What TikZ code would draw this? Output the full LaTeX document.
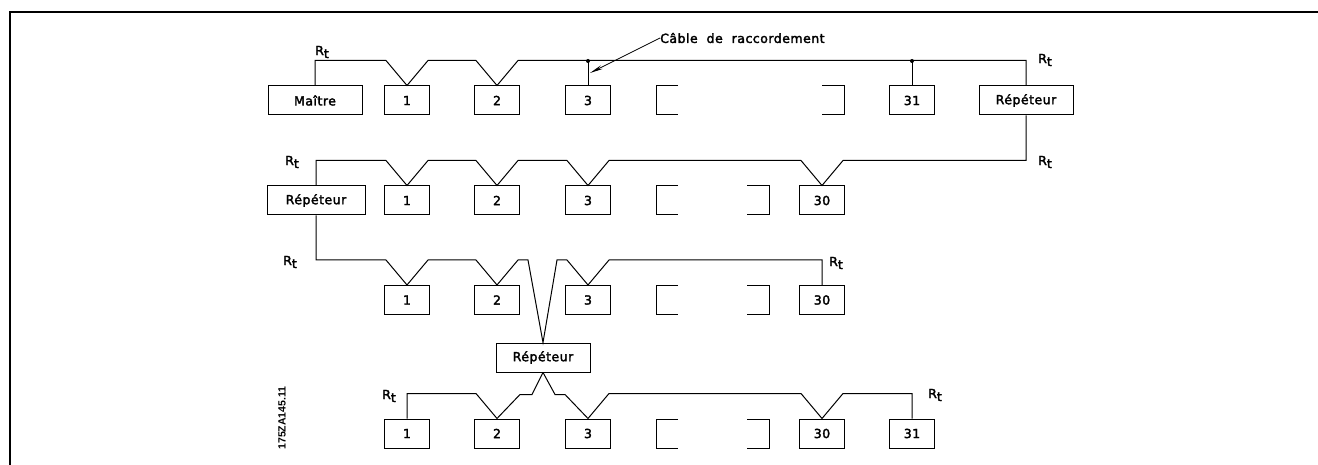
\documentclass[tikz,border=0pt]{standalone}
\usepackage{fontspec}
\newfontfamily\cadfont{DejaVu Sans}[LetterSpace=4, FakeBold=2.5]
\newfontfamily\codefont{Liberation Sans}
\usetikzlibrary{arrows.meta,calc}
\begin{document}
\begin{tikzpicture}[x=1pt,y=-1pt,
  wire/.style={line width=1pt, line join=miter},
  txt/.style={font=\cadfont\fontsize{12.5}{14}\selectfont},
  dev/.style={txt, draw, line width=1pt, minimum width=45pt, minimum height=29pt, inner sep=0pt},
  rep/.style={dev, minimum width=94pt},
  rt/.style={txt, inner sep=0pt},
  tap/.style={insert path={-- ($(#1.north)+(-21,-25)$) -- (#1.north) -- ($(#1.north)+(21,-25)$)}}]
\useasboundingbox (0,0) rectangle (1318,465);
% page frame
\draw[line width=2.5pt] (10,470) -- (10,12) -- (1325,12);

% first segment
\node[rep] (ma)  at (315,100.5) {Maître};
\node[dev] (a1)  at (407,100.5) {1};
\node[dev] (a2)  at (497,100.5) {2};
\node[dev] (a3)  at (588,100.5) {3};
\node[dev] (a31) at (912,100.5) {31};
\node[rep] (rA)  at (1026,100.5) {Répéteur};

% second segment
\node[rep, minimum width=98pt] (rB) at (316,200.5) {Répéteur};
\node[dev] (b1)  at (407,200.5) {1};
\node[dev] (b2)  at (497,200.5) {2};
\node[dev] (b3)  at (588,200.5) {3};
\node[dev] (b30) at (822,200.5) {30};

% third segment
\node[dev] (c1)  at (407,300) {1};
\node[dev] (c2)  at (497,300) {2};
\node[dev] (c3)  at (588,300) {3};
\node[dev] (c30) at (822,300) {30};
\node[rep] (rC)  at (543,357.5) {Répéteur};

% fourth segment
\node[dev] (d1)  at (407,433.5) {1};
\node[dev] (d2)  at (497,433.5) {2};
\node[dev] (d3)  at (588,433.5) {3};
\node[dev] (d30) at (822,433.5) {30};
\node[dev] (d31) at (912,433.5) {31};

% open brackets for the stations left out
\foreach \t in {186,285.5,419} {
  \draw[line width=1pt] (678,\t) -- (656,\t) -- (656,\t+29) -- (678,\t+29);
  \draw[line width=1pt] (747,\t) -- (769,\t) -- (769,\t+29) -- (747,\t+29);
}
\draw[line width=1pt] (678,86) -- (656,86) -- (656,115) -- (678,115);
\draw[line width=1pt] (822,86) -- (844,86) -- (844,115) -- (822,115);

% bus lines
\coordinate (w1) at (0,61);
\draw[wire] (ma.north) |- ($(a1.north)+(-21,-25)$) -- (a1.north) -- ++(21,-25) [tap=a2] -| (rA.north);
\draw[wire] (a3.north |- w1) -- (a3.north);
\draw[wire] (a31.north |- w1) -- (a31.north);
\fill (a3.north |- w1) circle[radius=2pt];
\fill (a31.north |- w1) circle[radius=2pt];

\draw[wire] (rB.north) |- ($(b1.north)+(-21,-25)$) -- (b1.north) -- ++(21,-25) [tap=b2] [tap=b3] [tap=b30] -| (rA.south);

\draw[wire] (rB.south) |- ($(c1.north)+(-21,-25)$) -- (c1.north) -- ++(21,-25) [tap=c2]
  -- ++(10,0) -- (rC.north) -- ($(c3.north)+(-31,-25)$) -- ++(10,0) -- (c3.north) -- ++(21,-25) -| (c30.north);

\draw[wire] (rC.south) -- ++(-11,22) -- ++(-12,0) -- (d2.north) -- ++(-21,-25) -| (d1.north);
\draw[wire] (rC.south) -- ++(12,22) -- ++(10,0) -- (d3.north) -- ++(21,-25) [tap=d30] -| (d31.north);

% terminations
\node[rt] (t1l) at (322,52)  {R\raisebox{-3pt}{t}};
\node[rt] (t1r) at (1045,60) {R\raisebox{-3pt}{t}};
\node[rt] (t2l) at (292,162) {R\raisebox{-3pt}{t}};
\node[rt] (t2r) at (1045,162) {R\raisebox{-3pt}{t}};
\node[rt] (t3l) at (290,262) {R\raisebox{-3pt}{t}};
\node[rt] (t3r) at (836,263) {R\raisebox{-3pt}{t}};
\node[rt] (t4l) at (389,396) {R\raisebox{-3pt}{t}};
\node[rt] (t4r) at (935,395) {R\raisebox{-3pt}{t}};

% connection cable callout
\node[rt, anchor=west] (cable) at (660,38) {Câble\ \ de\ \ raccordement};
\coordinate (tip) at (590,73);
\draw[line width=0.8pt, -{Stealth[length=13pt,width=4pt]}] (cable.west) -- (tip);

% drawing number
\node[rotate=90, inner sep=0pt, font=\codefont\bfseries\fontsize{10.5}{12}\selectfont] (code) at (282,418) {175ZA145.11};
\end{tikzpicture}
\end{document}
